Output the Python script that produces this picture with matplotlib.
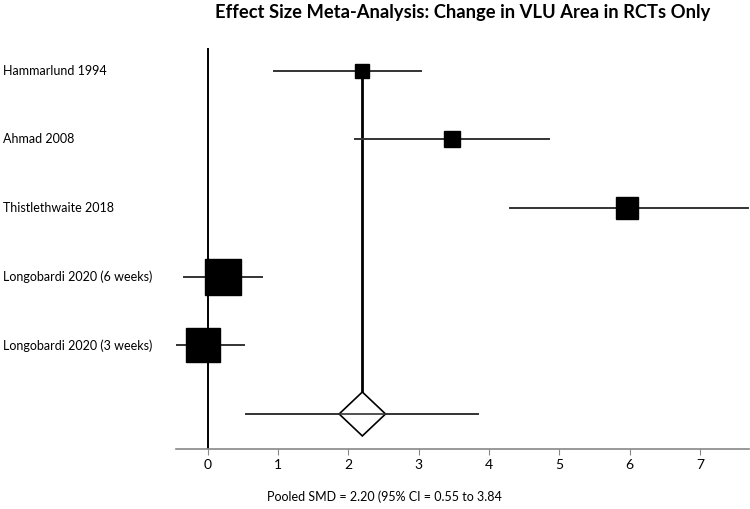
import numpy as np
import matplotlib.pyplot as plt
import matplotlib.transforms as mtransforms

plt.rcParams['font.family'] = ['Lato', 'DejaVu Sans']

# Datos de los estudios (SMD e IC 95%)
studies = ['Hammarlund 1994', 'Ahmad 2008', 'Thistlethwaite 2018',
           'Longobardi 2020 (6 weeks)', 'Longobardi 2020 (3 weeks)']
smd = [2.20, 3.47, 5.97, 0.22, -0.06]
ci_low = [0.95, 2.09, 4.30, -0.33, -0.63]
ci_high = [3.03, 4.85, 7.68, 0.77, 0.52]
weights = [6.1, 7.0, 15.0, 38.1, 33.8]  # peso relativo (%)

pooled = 2.20
pooled_low = 0.55
pooled_high = 3.84

fig = plt.figure(figsize=(7.5, 5.09), dpi=100)
ax = fig.add_axes([0.2347, 0.1179, 0.764, 0.7878])
ax.set_xlim(-0.45, 7.7)
ax.set_ylim(5.51, -0.33)

y = np.arange(len(studies))
y_pool = len(studies)

# Líneas de referencia
ax.plot([0, 0], [-0.33, 5.51], color='black', lw=1.4, zorder=1)
ax.plot([pooled, pooled], [y[0], y_pool - 0.32], color='black', lw=2, zorder=1)

# Etiquetas a la izquierda (x en coordenadas de figura, y en datos)
trans = mtransforms.blended_transform_factory(fig.transFigure, ax.transData)

# Estudios individuales
for i in range(len(studies)):
    ax.plot([ci_low[i], ci_high[i]], [y[i], y[i]], color='#333333', lw=1.4, zorder=2)
    ms = 4.1 * np.sqrt(weights[i])
    ax.plot(smd[i], y[i], marker='s', ms=ms, color='black', mec='black', zorder=3)
    ax.text(0.004, y[i], studies[i], transform=trans, ha='left', va='center',
            fontsize=9, clip_on=False)

# Estimación combinada
ax.plot([pooled_low, pooled_high], [y_pool, y_pool], color='#333333', lw=1.4, zorder=2)
dx, dy = 0.33, 0.32
ax.fill([pooled - dx, pooled, pooled + dx, pooled],
        [y_pool, y_pool - dy, y_pool, y_pool + dy],
        facecolor='white', edgecolor='black', lw=1.2, zorder=3)
ax.plot([pooled - dx, pooled + dx], [y_pool, y_pool], color='#333333', lw=1.2, zorder=4)

ax.set_xticks(range(0, 8))
ax.set_yticks([])
for s in ['top', 'right', 'left']:
    ax.spines[s].set_visible(False)
ax.spines['bottom'].set_color('#888888')
ax.spines['bottom'].set_linewidth(1.2)
ax.tick_params(axis='x', length=4, color='#888888', labelsize=10, pad=3)

fig.text(0.617, 0.975, 'Effect Size Meta-Analysis: Change in VLU Area in RCTs Only',
         ha='center', va='center', fontsize=13.2, fontweight='bold')
fig.text(0.513, 0.024, 'Pooled SMD = 2.20 (95% CI = 0.55 to 3.84',
         ha='center', va='center', fontsize=9)

plt.savefig('out.png', dpi=100)
